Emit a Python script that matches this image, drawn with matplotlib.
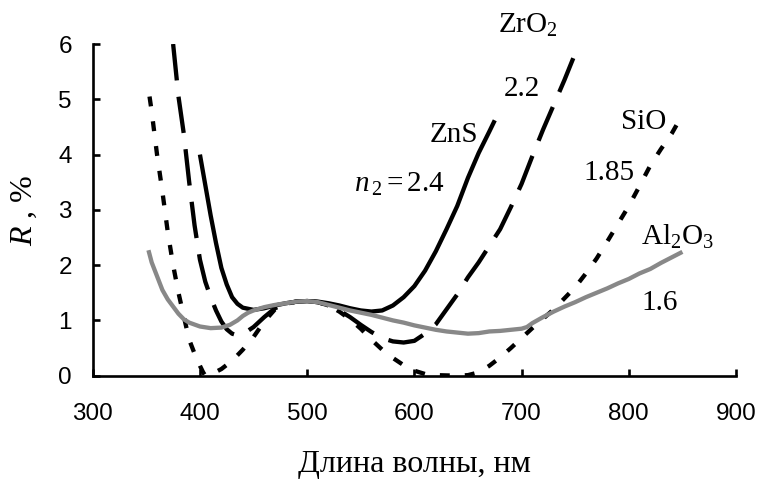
import matplotlib
matplotlib.use("Agg")
import matplotlib.pyplot as plt

# --- data (wavelength nm, reflectance %) ---
zns_x = [400, 405, 410, 415, 420, 425, 430, 435, 440, 450, 460, 470, 480, 490,
         500, 510, 520, 530, 540, 550, 560, 570, 580, 590, 600, 610, 620, 630,
         640, 650, 660, 670, 675]
zns_y = [4.0, 3.45, 2.9, 2.4, 1.95, 1.65, 1.42, 1.3, 1.23, 1.19, 1.22, 1.27, 1.31, 1.34,
         1.35, 1.34, 1.31, 1.27, 1.22, 1.18, 1.16, 1.18, 1.27, 1.42, 1.62, 1.9, 2.25, 2.65,
         3.07, 3.58, 4.03, 4.42, 4.62]

zro2_x = [375, 380, 385, 390, 395, 400, 405, 410, 415, 420, 425, 430, 435, 440, 450,
          460, 470, 480, 490, 500, 510, 520, 530, 540, 550, 560, 570, 580, 590, 600,
          610, 620, 630, 640, 650, 660, 670, 680, 690, 700, 710, 720, 730, 740, 750, 753]
zro2_y = [6.0, 5.05, 4.37, 3.5, 2.72, 2.1, 1.7, 1.42, 1.18, 0.98, 0.84, 0.76, 0.73, 0.75, 0.88,
          1.06, 1.22, 1.3, 1.34, 1.35, 1.33, 1.27, 1.18, 1.06, 0.92, 0.79, 0.68, 0.62, 0.6, 0.63,
          0.76, 0.93, 1.2, 1.47, 1.78, 2.05, 2.35, 2.65, 3.05, 3.47, 3.97, 4.45, 4.9, 5.35, 5.83, 6.0]

sio_x = [353, 355, 360, 365, 370, 375, 380, 385, 390, 395, 400, 403, 405, 410, 420, 430,
         440, 450, 460, 470, 480, 490, 500, 510, 520, 530, 540, 550, 560, 570, 580, 590,
         600, 610, 620, 640, 650, 660, 670, 680, 690, 700, 710, 720, 730, 740, 750, 760,
         770, 780, 790, 800, 810, 820, 830, 840, 845]
sio_y = [5.05, 4.78, 4.0, 3.33, 2.6, 2.0, 1.5, 1.07, 0.65, 0.4, 0.18, 0.06, 0.0, 0.02, 0.12, 0.27,
         0.47, 0.7, 0.98, 1.2, 1.3, 1.34, 1.35, 1.33, 1.27, 1.16, 1.02, 0.85, 0.65, 0.47, 0.32, 0.19,
         0.09, 0.03, 0.01, 0.0, 0.01, 0.06, 0.18, 0.33, 0.5, 0.68, 0.86, 1.03, 1.2, 1.4, 1.6, 1.85,
         2.12, 2.43, 2.75, 3.07, 3.43, 3.8, 4.1, 4.38, 4.55]

al2o3_x = [352, 355, 360, 365, 370, 375, 380, 385, 390, 400, 410, 420, 428, 435, 440, 445,
           450, 460, 470, 480, 490, 500, 510, 520, 530, 540, 550, 560, 570, 580, 590, 600,
           610, 620, 630, 640, 650, 660, 670, 680, 690, 700, 705, 710, 720, 730, 740, 750,
           760, 770, 780, 790, 800, 810, 820, 830, 840, 850]
al2o3_y = [2.27, 2.05, 1.8, 1.55, 1.38, 1.25, 1.12, 1.02, 0.96, 0.89, 0.86, 0.87, 0.92, 1.0, 1.08, 1.14,
           1.18, 1.24, 1.28, 1.31, 1.34, 1.35, 1.33, 1.28, 1.23, 1.18, 1.14, 1.1, 1.05, 1.0, 0.96, 0.91,
           0.87, 0.83, 0.8, 0.78, 0.76, 0.77, 0.8, 0.81, 0.83, 0.85, 0.88, 0.95, 1.06, 1.16, 1.25, 1.33,
           1.42, 1.5, 1.58, 1.67, 1.75, 1.85, 1.93, 2.04, 2.14, 2.24]

x_ticks = [300, 400, 500, 600, 700, 800, 900]
y_ticks = [0, 1, 2, 3, 4, 5, 6]

SERIF = "Liberation Serif"
SANS = "Liberation Sans"
plt.rcParams["mathtext.fontset"] = "custom"
plt.rcParams["mathtext.rm"] = SERIF
plt.rcParams["mathtext.it"] = SERIF + ":italic"

fig = plt.figure(figsize=(7.58, 4.79), dpi=100)
ax = fig.add_axes([0.1223, 0.2157, 0.8487, 0.6924])

lw = 3.1
ax.plot(zro2_x, zro2_y, color="black", lw=lw, dashes=(8.5, 3.8), dash_capstyle="butt")
ax.plot(sio_x, sio_y, color="black", lw=lw, dashes=(2.3, 3.5), dash_capstyle="butt")
ax.plot(zns_x, zns_y, color="black", lw=lw, solid_capstyle="butt")
ax.plot(al2o3_x, al2o3_y, color="#888888", lw=lw, solid_capstyle="butt")

ax.set_xlim(300, 900)
ax.set_ylim(0, 6)
ax.set_xticks(x_ticks)
ax.set_yticks(y_ticks)
for s in ("top", "right"):
    ax.spines[s].set_visible(False)
for s in ("left", "bottom"):
    ax.spines[s].set_linewidth(1.9)
ax.tick_params(direction="in", length=5.3, width=1.9, labelsize=17.5)
ax.tick_params(axis="x", pad=20)
ax.tick_params(axis="y", pad=15)
for lab in ax.get_xticklabels() + ax.get_yticklabels():
    lab.set_fontfamily(SANS)

ax.set_xlabel("Длина волны, нм", fontfamily=SERIF, fontsize=23, labelpad=18)
ax.set_ylabel(r"$R$ , %", fontfamily=SERIF, fontsize=23, labelpad=14)

tkw = dict(fontfamily=SERIF, fontsize=21, va="baseline", clip_on=False)
ax.text(706, 6.2, r"ZrO$_\mathrm{2}$", ha="center", **tkw)
ax.text(700, 5.06, "2.2", ha="center", **tkw)
ax.text(637, 4.23, "ZnS", ha="center", **tkw)
ax.text(628.6, 3.33, r"$n_{\,2} = \mathrm{2.4}$", ha="right", **tkw)
ax.text(814, 4.47, "SiO", ha="center", **tkw)
ax.text(781.5, 3.54, "1.85", ha="center", **tkw)
ax.text(845.5, 2.36, r"Al$_\mathrm{2}$O$_\mathrm{3}$", ha="center", **tkw)
ax.text(829, 1.19, "1.6", ha="center", **tkw)

fig.savefig("out.png", dpi=100)
